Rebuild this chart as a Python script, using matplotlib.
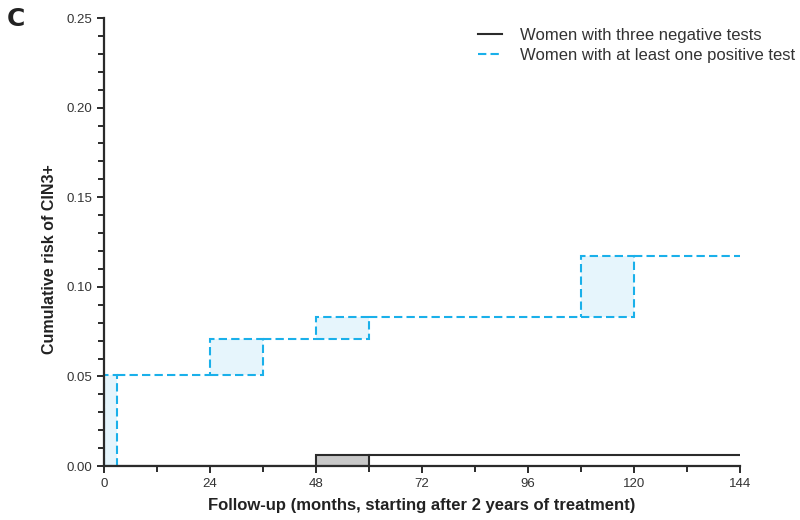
import matplotlib.pyplot as plt
from matplotlib.patches import Rectangle
from matplotlib.ticker import MultipleLocator

# interval boxes: (left, right, low, high) in months / cumulative risk
neg_boxes = [(48, 60, 0.0, 0.006)]
pos_boxes = [(0, 3, 0.0, 0.051), (24, 36, 0.051, 0.071),
             (48, 60, 0.071, 0.083), (108, 120, 0.083, 0.117)]
x_end = 144

x_ticks = [0, 24, 48, 72, 96, 120, 144]
y_ticks = [0.00, 0.05, 0.10, 0.15, 0.20, 0.25]

plt.rcParams['font.family'] = ['Liberation Sans', 'DejaVu Sans']

fig = plt.figure(figsize=(8, 5.2), dpi=100)
ax = fig.add_axes([0.13, 0.1038, 0.795, 0.8615])


def draw_curve(boxes, color, fill, ls, label):
    prev_x, prev_y = 0, 0.0
    for left, right, low, high in boxes:
        if left > prev_x:
            ax.plot([prev_x, left], [prev_y, prev_y], color=color, ls=ls, lw=1.5)
        ax.add_patch(Rectangle((left, low), right - left, high - low,
                               facecolor=fill, edgecolor=color, ls=ls, lw=1.5))
        prev_x, prev_y = right, high
    ax.plot([prev_x, x_end], [prev_y, prev_y], color=color, ls=ls, lw=1.5,
            label=label)


draw_curve(neg_boxes, '#2b2b2b', '#c8c8c8', '-', 'Women with three negative tests')
draw_curve(pos_boxes, '#1ab0ea', '#e6f5fc', (0, (4, 2)),
           'Women with at least one positive test')

ax.set_xlim(0, 144)
ax.set_ylim(0, 0.25)
ax.set_xticks(x_ticks)
ax.set_yticks(y_ticks)
ax.set_yticklabels([f'{v:.2f}' for v in y_ticks])
ax.xaxis.set_minor_locator(MultipleLocator(12))
ax.yaxis.set_minor_locator(MultipleLocator(0.01))
ax.tick_params(which='both', direction='out', width=1.4, color='#2b2b2b',
               labelsize=9.5, labelcolor='#333333')
ax.tick_params(which='major', length=5)
ax.tick_params(which='minor', length=4)
for side in ['top', 'right']:
    ax.spines[side].set_visible(False)
for side in ['left', 'bottom']:
    ax.spines[side].set_linewidth(1.6)
    ax.spines[side].set_color('#2b2b2b')

ax.set_xlabel('Follow-up (months, starting after 2 years of treatment)',
              fontsize=12, fontweight='bold', color='#222222', labelpad=6)
ax.set_ylabel('Cumulative risk of CIN3+', fontsize=11.5, fontweight='bold',
              color='#222222')
ax.yaxis.set_label_coords(-0.074, 0.462)

ax.legend(loc='upper right', bbox_to_anchor=(0.994, 0.946),
          bbox_transform=fig.transFigure, frameon=False, borderpad=0,
          borderaxespad=0, fontsize=12, handlelength=1.4, handletextpad=1.1,
          labelspacing=0.28, labelcolor='#333333')

fig.text(0.008, 0.986, 'C', fontsize=18, fontweight='bold', color='#222222',
         va='top', family=['DejaVu Sans'])

fig.savefig('out.png', dpi=100)
